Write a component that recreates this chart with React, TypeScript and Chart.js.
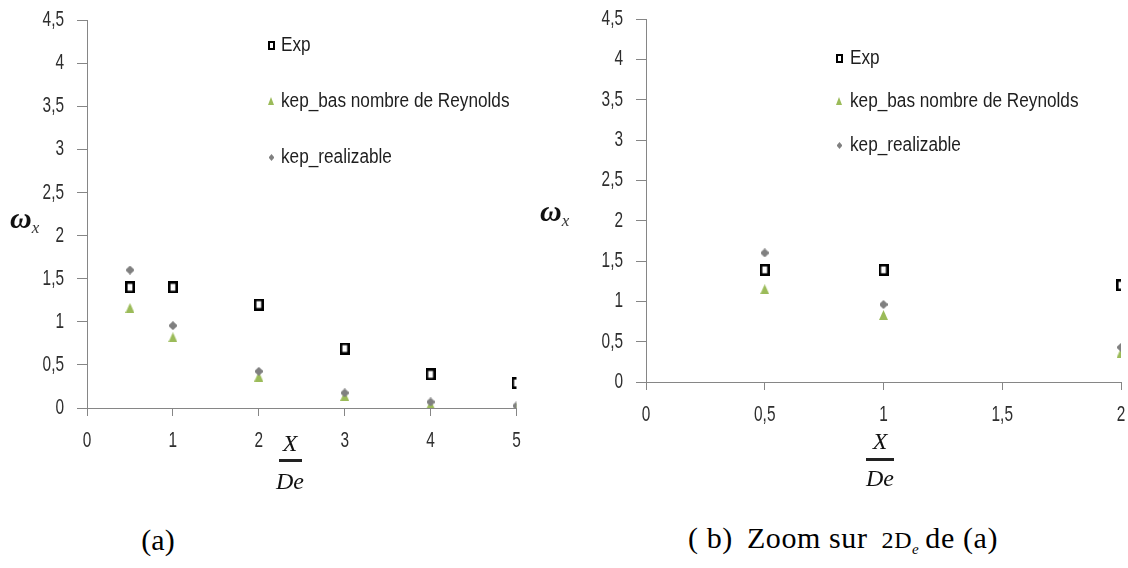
import React, { useEffect, useRef } from "react";
import { Chart, registerables } from "chart.js";

Chart.register(...registerables);

// ---------- data ----------
const seriesNames = ["Exp", "kep_bas nombre de Reynolds", "kep_realizable"];

const xFull = [0.5, 1, 2, 3, 4, 5];
const expFull = [1.4, 1.4, 1.2, 0.69, 0.39, 0.29];
const basFull = [1.16, 0.82, 0.365, 0.14, 0.04, 0.0];
const realFull = [1.6, 0.955, 0.425, 0.175, 0.07, 0.025];

const xZoom = [0.5, 1, 2];
const expZoom = [1.39, 1.39, 1.2];
const basZoom = [1.15, 0.83, 0.36];
const realZoom = [1.6, 0.96, 0.43];

const yTickValues = [0, 0.5, 1, 1.5, 2, 2.5, 3, 3.5, 4, 4.5];
const xTickFull = [0, 1, 2, 3, 4, 5];
const xTickZoom = [0, 0.5, 1, 1.5, 2];

const captionA = "(a)";
const captionB = ["( b)", "Zoom sur", "2D", "e", "de (a)"];

// ---------- styling ----------
const AXIS = "#868686";
const SANS = '"Liberation Sans", Arial, sans-serif';
const GREEN = "#9BBB59";
const GREY = "#808080";
const TICK_SX = 0.7;
const LEGEND_SX = 0.86;

function makeSquare(w: number, h: number, lw: number) {
  const c = document.createElement("canvas");
  c.width = w;
  c.height = h;
  const g = c.getContext("2d")!;
  g.fillStyle = "#ffffff";
  g.fillRect(0, 0, w, h);
  g.strokeStyle = "#000000";
  g.lineWidth = lw;
  g.strokeRect(lw / 2, lw / 2, w - lw, h - lw);
  return c;
}
function makeTriangle(w: number, h: number) {
  const c = document.createElement("canvas");
  c.width = w;
  c.height = h;
  const g = c.getContext("2d")!;
  g.fillStyle = GREEN;
  g.beginPath();
  g.moveTo(w / 2, 0);
  g.lineTo(w, h);
  g.lineTo(0, h);
  g.closePath();
  g.fill();
  return c;
}
function makeDiamond(w: number, h: number) {
  const c = document.createElement("canvas");
  c.width = w;
  c.height = h;
  const g = c.getContext("2d")!;
  g.fillStyle = GREY;
  g.beginPath();
  g.moveTo(w / 2, 0);
  g.lineTo(w, h * 0.42);
  g.lineTo(w, h * 0.58);
  g.lineTo(w / 2, h);
  g.lineTo(0, h * 0.58);
  g.lineTo(0, h * 0.42);
  g.closePath();
  g.fill();
  return c;
}

function fmt(v: number) {
  return String(v).replace(".", ",");
}

type LegendPos = { mx: number; tx: number; rows: number[] };

function buildChart(
  canvas: HTMLCanvasElement,
  xs: number[],
  exp: number[],
  bas: number[],
  real: number[],
  xTicks: number[],
  area: { padTop: number; padRight: number; padBottom: number; yWidth: number; xHeight: number },
  legend: LegendPos,
  markers: { square: HTMLCanvasElement; tri: HTMLCanvasElement; dia: HTMLCanvasElement },
  legendMarkers: HTMLCanvasElement[]
) {
  const pts = (ys: number[]) => xs.map((x, i) => ({ x, y: ys[i] }));
  const textPlugin = {
    id: "labelsAndLegend",
    afterDraw(chart: any) {
      const ctx = chart.ctx;
      const sx = chart.scales.x;
      const sy = chart.scales.y;
      ctx.save();
      // tick labels (narrow, like the original)
      ctx.font = `22px ${SANS}`;
      ctx.fillStyle = "#2e2e2e";
      ctx.textBaseline = "middle";
      yTickValues.forEach((v) => {
        const py = sy.getPixelForValue(v);
        ctx.save();
        ctx.translate(sy.right - 23, py);
        ctx.scale(TICK_SX, 1);
        ctx.textAlign = "right";
        ctx.fillText(fmt(v), 0, 0);
        ctx.restore();
      });
      xTicks.forEach((v) => {
        const px = sx.getPixelForValue(v);
        ctx.save();
        ctx.translate(px, sx.top + 33);
        ctx.scale(TICK_SX, 1);
        ctx.textAlign = "center";
        ctx.fillText(fmt(v), 0, 0);
        ctx.restore();
      });
      // legend
      ctx.font = `20px ${SANS}`;
      ctx.fillStyle = "#1e1e1e";
      seriesNames.forEach((name, i) => {
        const img = legendMarkers[i];
        ctx.drawImage(img, Math.round(legend.mx - img.width / 2), Math.round(legend.rows[i] - img.height / 2));
        ctx.save();
        ctx.translate(legend.tx, legend.rows[i]);
        ctx.scale(LEGEND_SX, 1);
        ctx.textAlign = "left";
        ctx.fillText(name, 0, 0);
        ctx.restore();
      });
      ctx.restore();
    },
  };
  return new Chart(canvas, {
    type: "scatter",
    data: {
      datasets: [
        { label: seriesNames[0], data: pts(exp), pointStyle: markers.square as any, pointRadius: 6, order: 3 },
        { label: seriesNames[1], data: pts(bas), pointStyle: markers.tri as any, pointRadius: 5, order: 2 },
        { label: seriesNames[2], data: pts(real), pointStyle: markers.dia as any, pointRadius: 5, order: 1 },
      ],
    },
    options: {
      animation: false,
      responsive: false,
      maintainAspectRatio: false,
      layout: { padding: { top: area.padTop, right: area.padRight, bottom: area.padBottom, left: 0 } },
      plugins: { legend: { display: false }, tooltip: { enabled: false } },
      scales: {
        x: {
          type: "linear",
          min: xTicks[0],
          max: xTicks[xTicks.length - 1],
          afterBuildTicks: (scale: any) => {
            scale.ticks = xTicks.map((v) => ({ value: v }));
          },
          afterFit: (scale: any) => {
            scale.height = area.xHeight;
          },
          grid: { drawOnChartArea: false, drawTicks: true, tickLength: 8, color: AXIS, tickColor: AXIS, lineWidth: 1 },
          border: { display: true, color: AXIS, width: 1 },
          ticks: { display: false, autoSkip: false },
        },
        y: {
          type: "linear",
          min: 0,
          max: 4.5,
          afterBuildTicks: (scale: any) => {
            scale.ticks = yTickValues.map((v) => ({ value: v }));
          },
          afterFit: (scale: any) => {
            scale.width = area.yWidth;
          },
          grid: { drawOnChartArea: false, drawTicks: true, tickLength: 10, color: AXIS, tickColor: AXIS, lineWidth: 1 },
          border: { display: true, color: AXIS, width: 1 },
          ticks: { display: false, autoSkip: false },
        },
      },
    },
    plugins: [textPlugin],
  } as any);
}

const serif = '"Liberation Serif", "Times New Roman", serif';

function Omega({ left, top }: { left: number; top: number }) {
  return (
    <div
      style={{
        position: "absolute",
        left,
        top,
        fontFamily: serif,
        whiteSpace: "nowrap",
        lineHeight: 1,
        color: "#111",
      }}
    >
      <span style={{ fontSize: 30, fontStyle: "italic", fontWeight: "bold" }}>ω</span>
      <span style={{ fontSize: 17, fontStyle: "italic", position: "relative", top: 5, color: "#333" }}>x</span>
    </div>
  );
}

function Fraction({ cx, yX, yLine, yDe, w }: { cx: number; yX: number; yLine: number; yDe: number; w: number }) {
  const txt: React.CSSProperties = {
    position: "absolute",
    fontFamily: serif,
    fontStyle: "italic",
    fontSize: 24,
    lineHeight: 1,
    transform: "translate(-50%, -50%)",
    color: "#111",
    whiteSpace: "nowrap",
  };
  return (
    <>
      <div style={{ ...txt, left: cx, top: yX }}>X</div>
      <div style={{ position: "absolute", left: cx - w / 2, top: yLine - 1, width: w, height: 3, background: "#222" }} />
      <div style={{ ...txt, left: cx, top: yDe }}>De</div>
    </>
  );
}

const capStyle: React.CSSProperties = {
  position: "absolute",
  top: 540,
  fontFamily: serif,
  fontSize: 30,
  lineHeight: 1,
  color: "#000",
  whiteSpace: "nowrap",
  transform: "translateY(-50%)",
};

export default function App() {
  const ref1 = useRef<HTMLCanvasElement>(null);
  const ref2 = useRef<HTMLCanvasElement>(null);

  useEffect(() => {
    const markers = { square: makeSquare(10, 12, 2.6), tri: makeTriangle(9, 10), dia: makeDiamond(8, 9) };
    const legendMarkers = [makeSquare(7, 9, 2), makeTriangle(6, 8), makeDiamond(5, 7)];
    const c1 = buildChart(
      ref1.current!,
      xFull,
      expFull,
      basFull,
      realFull,
      xTickFull,
      { padTop: 20, padRight: 43.5, padBottom: 470 - 408 - 40, yWidth: 87, xHeight: 40 },
      { mx: 271, tx: 281, rows: [45, 101, 157] },
      markers,
      legendMarkers
    );
    const c2 = buildChart(
      ref2.current!,
      xZoom,
      expZoom,
      basZoom,
      realZoom,
      xTickZoom,
      { padTop: 19, padRight: 6, padBottom: 470 - 382 - 40, yWidth: 86, xHeight: 40 },
      { mx: 279, tx: 290, rows: [58, 101, 145] },
      markers,
      legendMarkers
    );
    return () => {
      c1.destroy();
      c2.destroy();
    };
  }, []);

  return (
    <div style={{ position: "absolute", left: 0, top: 0, width: 1128, height: 568, overflow: "hidden", background: "#fff" }}>
      <canvas ref={ref1} width={560} height={470} style={{ position: "absolute", left: 0, top: 0, width: 560, height: 470 }} />
      <canvas ref={ref2} width={568} height={470} style={{ position: "absolute", left: 560, top: 0, width: 568, height: 470 }} />
      <Omega left={10} top={203} />
      <Omega left={540} top={196} />
      <Fraction cx={290} yX={443} yLine={460} yDe={481} w={23} />
      <Fraction cx={880} yX={441} yLine={459} yDe={478} w={28} />
      <div style={{ ...capStyle, left: 158, transform: "translate(-50%, -50%)" }}>{captionA}</div>
      <div style={{ ...capStyle, left: 688, letterSpacing: 0.6 }}>
        <span>{captionB[0]}</span>
        <span style={{ marginLeft: 14 }}>{captionB[1]}</span>
        <span style={{ marginLeft: 14, fontSize: 24 }}>
          {captionB[2]}
          <sub style={{ fontSize: 15, fontStyle: "italic" }}>{captionB[3]}</sub>
        </span>
        <span style={{ marginLeft: 6 }}>{captionB[4]}</span>
      </div>
    </div>
  );
}
